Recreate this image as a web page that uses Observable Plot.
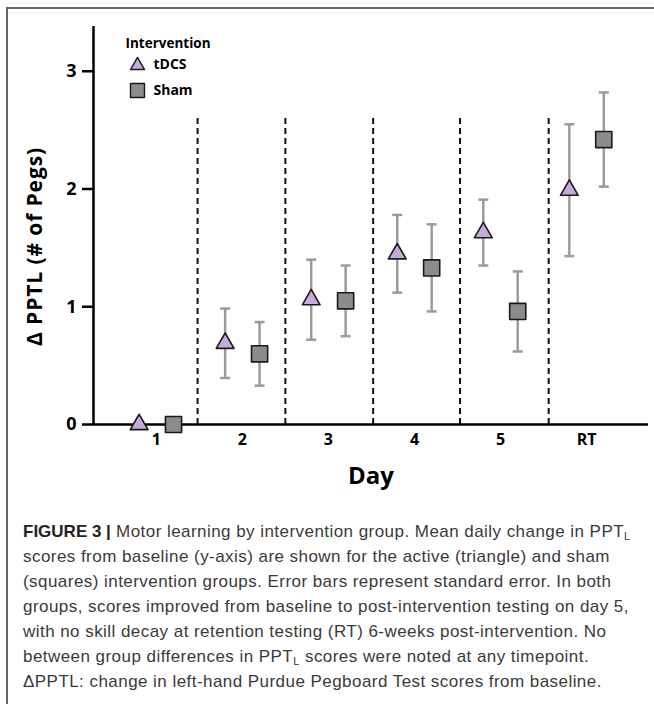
<!DOCTYPE html>
<html>
<head>
<meta charset="utf-8">
<script src="https://cdn.jsdelivr.net/npm/d3@7"></script>
<script src="https://cdn.jsdelivr.net/npm/@observablehq/plot@0.6"></script>
<style>
  html, body { margin: 0; padding: 0; background: #fff; overflow: hidden; width: 654px; height: 704px; }
  #frame { position: absolute; left: 6px; top: 7px; width: 700px; height: 760px;
           border-top: 2px solid #666; border-left: 2px solid #666; }
  #chart { position: absolute; left: 0; top: 0; }
  #cap { position: absolute; left: 23px; top: 519px; font-family: "Liberation Sans", Arial, sans-serif;
         font-size: 17px; letter-spacing: 0.45px; line-height: 25px; color: #3a3a3a; white-space: nowrap; }
  #cap b { color: #222; letter-spacing: 0; }
  #cap sub { font-size: 11px; line-height: 0; vertical-align: -3px; }
</style>
</head>
<body>
<div id="frame"></div>
<div id="chart"></div>
<div id="cap"></div>
<script>
// ---- data ----
const dayLabels = ["1", "2", "3", "4", "5", "RT"];
const dayPos = [1, 2, 3, 4, 5, 6];
const groups = ["tDCS", "Sham"];
const groupOffset = [-0.2, 0.2];
const tdcsMean = [0, 0.69, 1.06, 1.45, 1.63, 1.99];
const tdcsSE   = [0, 0.295, 0.34, 0.33, 0.28, 0.56];
const shamMean = [0, 0.60, 1.05, 1.33, 0.96, 2.42];
const shamSE   = [0, 0.27, 0.30, 0.37, 0.34, 0.40];
const dividers = [1.48, 2.5, 3.52, 4.53, 5.56];
const dividerTop = 2.63;
const yTicks = [0, 1, 2, 3];
const xDomain = [0.27, 6.72];
const yDomain = [0, 3.38];
const yLabel = "\u0394 PPTL (# of Pegs)";
const xLabel = "Day";
const legendTitle = "Intervention";

const captionLines = [
  "<b>FIGURE 3 |</b> Motor learning by intervention group. Mean daily change in PPT<sub>L</sub>",
  "scores from baseline (y-axis) are shown for the active (triangle) and sham",
  "(squares) intervention groups. Error bars represent standard error. In both",
  "groups, scores improved from baseline to post-intervention testing on day 5,",
  "with no skill decay at retention testing (RT) 6-weeks post-intervention. No",
  "between group differences in PPT<sub>L</sub> scores were noted at any timepoint.",
  "\u0394PPTL: change in left-hand Purdue Pegboard Test scores from baseline."
];

// ---- build table ----
const means = [tdcsMean, shamMean];
const ses = [tdcsSE, shamSE];
const rows = groups.flatMap((g, gi) => dayPos.map((p, i) => ({
  group: g, x: p + groupOffset[gi], mean: means[gi][i], se: ses[gi][i]
})));
const withErr = rows.filter(d => d.se > 0);
const caps = withErr.flatMap(d => [{x: d.x, y: d.mean - d.se}, {x: d.x, y: d.mean + d.se}]);

const capSymbol = {
  draw(ctx, size) {
    const w = Math.sqrt(size / Math.PI);
    ctx.moveTo(-w, 0); ctx.lineTo(w, 0);
  }
};

const symbolOf = {tDCS: "triangle", Sham: "square"};
const fillOf = {tDCS: "#c6a9dd", Sham: "#8c8c8c"};
const rOf = {tDCS: 6.6, Sham: 9.1};
const legendROf = {tDCS: 5.2, Sham: 7.9};
const font = "'Open Sans', 'DejaVu Sans', sans-serif";

const plot = Plot.plot({
  width: 654,
  height: 500,
  marginLeft: 93,
  marginRight: 6,
  marginTop: 26,
  marginBottom: 76,
  style: {fontFamily: font, color: "#000", background: "transparent", overflow: "visible"},
  x: {domain: xDomain},
  y: {domain: yDomain},
  marks: [
    // dashed separators
    Plot.ruleX(dividers, {y1: 0, y2: dividerTop, stroke: "#111", strokeWidth: 2, strokeDasharray: "6,4"}),
    // axes lines
    Plot.ruleY([0], {x1: xDomain[0], x2: xDomain[1], stroke: "#000", strokeWidth: 2.5}),
    Plot.ruleX([xDomain[0]], {y1: yDomain[0], y2: yDomain[1], stroke: "#000", strokeWidth: 2.5}),
    Plot.axisY({ticks: yTicks, tickSize: 11, tickPadding: 6, tickFormat: d3.format("d"),
      fontSize: 18, fontWeight: "bold", strokeWidth: 2.5, label: null}),
    Plot.axisX({ticks: dayPos, tickSize: 0, tickPadding: 9, tickFormat: d => dayLabels[d - 1],
      fontSize: 16, fontWeight: "bold", label: null}),
    // error bars
    Plot.ruleX(withErr, {x: "x", y1: d => d.mean - d.se, y2: d => d.mean + d.se, stroke: "#9b9b9b", strokeWidth: 2.5}),
    Plot.dot(caps, {x: "x", y: "y", symbol: capSymbol, r: 5, stroke: "#9b9b9b", strokeWidth: 2.5, fill: "none"}),
    // markers
    ...groups.map(g => Plot.dot(rows.filter(d => d.group === g), {
      x: "x", y: "mean", symbol: symbolOf[g], r: rOf[g], fill: fillOf[g],
      stroke: "#1a1a1a", strokeWidth: 1.6, strokeLinejoin: "round"
    })),
    // axis titles
    Plot.text([yLabel], {frameAnchor: "left", dx: -58, dy: 21, rotate: -90, textAnchor: "middle", lineAnchor: "middle",
      fontSize: 21, fontWeight: "bold", fill: "#000"}),
    Plot.text([xLabel], {frameAnchor: "bottom", dy: 52, lineAnchor: "middle", fontSize: 24, fontWeight: "bold", fill: "#000"}),
    // legend
    Plot.text([legendTitle], {frameAnchor: "top-left", dx: 32, dy: 17, textAnchor: "start", lineAnchor: "middle",
      fontSize: 13.5, fontWeight: "bold", fill: "#000"}),
    ...groups.map((g, i) => Plot.dot([g], {frameAnchor: "top-left", dx: 44, dy: 39 + i * 25,
      symbol: symbolOf[g], r: legendROf[g], fill: fillOf[g], stroke: "#1a1a1a", strokeWidth: 1.4, strokeLinejoin: "round"})),
    ...groups.map((g, i) => Plot.text([g], {frameAnchor: "top-left", dx: 60, dy: 38 + i * 26,
      textAnchor: "start", lineAnchor: "middle", fontSize: 14, fontWeight: "bold", fill: "#000"}))
  ]
});
// widen the y-axis title a little to match the reference letterspacing
d3.select(plot).selectAll("text").filter(function() { return this.textContent === yLabel; })
  .style("letter-spacing", "0.9px");
document.getElementById("chart").appendChild(plot);
document.getElementById("cap").innerHTML = captionLines.join("<br>");
</script>
</body>
</html>
